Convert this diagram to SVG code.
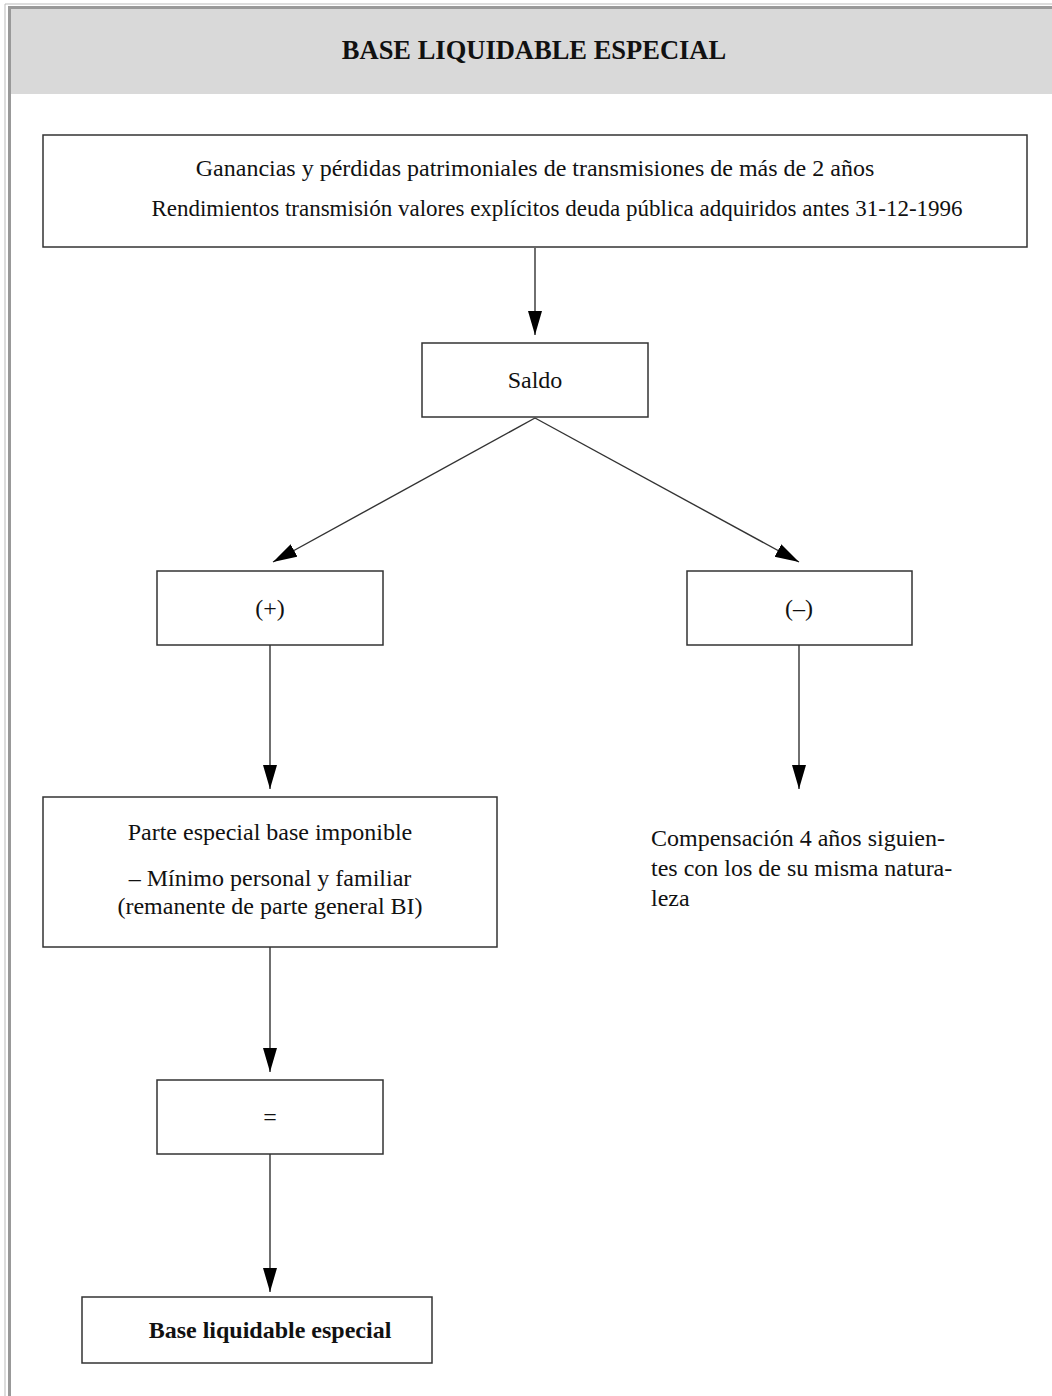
<svg xmlns="http://www.w3.org/2000/svg" width="1052" height="1396" viewBox="0 0 1052 1396">
<style>
.box{fill:#fff;stroke:#333;stroke-width:1.5}
.t{font-family:"Liberation Serif","Times New Roman",serif;font-size:24px;fill:#111;text-anchor:middle}
.tl{font-family:"Liberation Serif","Times New Roman",serif;font-size:24px;fill:#111}
.b{font-weight:bold}
.c{stroke:#333;stroke-width:1.4;fill:none;marker-end:url(#ah)}
</style>
<defs>
<marker id="ah" markerUnits="userSpaceOnUse" markerWidth="26" markerHeight="16" refX="24" refY="7" orient="auto">
<path d="M0,0 L24,7 L0,14 Z" fill="#000"/>
</marker>
</defs>
<rect x="0" y="0" width="1052" height="1396" fill="#fff"/>
<g id="frame">
<line x1="5" y1="4" x2="5" y2="1396" stroke="#bbb" stroke-width="1"/>
<line x1="5" y1="4" x2="1052" y2="4" stroke="#bbb" stroke-width="1"/>
<rect x="8" y="6" width="3" height="1390" fill="#999"/>
<rect x="8" y="6" width="1044" height="3" fill="#999"/>
<rect x="11" y="9" width="1041" height="85" fill="#d9d9d9"/>
<text x="534" y="59" class="t b" style="font-size:26.5px">BASE LIQUIDABLE ESPECIAL</text>
</g>
<g id="connectors">
<line class="c" x1="535" y1="248" x2="535" y2="335"/>
<line class="c" x1="535" y1="418" x2="273" y2="562"/>
<line class="c" x1="535" y1="418" x2="799" y2="562"/>
<line class="c" x1="270" y1="645" x2="270" y2="789"/>
<line class="c" x1="799" y1="645" x2="799" y2="789"/>
<line class="c" x1="270" y1="947" x2="270" y2="1072"/>
<line class="c" x1="270" y1="1154" x2="270" y2="1292"/>
</g>
<g id="n-ganancias">
<rect class="box" x="43" y="135" width="984" height="112"/>
<text class="t" x="535" y="176">Ganancias y pérdidas patrimoniales de transmisiones de más de 2 años</text>
<text class="t" x="557" y="216" style="font-size:23px">Rendimientos transmisión valores explícitos deuda pública adquiridos antes 31-12-1996</text>
</g>
<g id="n-saldo">
<rect class="box" x="422" y="343" width="226" height="74"/>
<text class="t" x="535" y="388">Saldo</text>
</g>
<g id="n-mas">
<rect class="box" x="157" y="571" width="226" height="74"/>
<text class="t" x="270" y="616">(+)</text>
</g>
<g id="n-menos">
<rect class="box" x="687" y="571" width="225" height="74"/>
<text class="t" x="799" y="616">(–)</text>
</g>
<g id="n-compensacion">
<text class="tl" x="651" y="846">Compensación 4 años siguien-</text>
<text class="tl" x="651" y="876">tes con los de su misma natura-</text>
<text class="tl" x="651" y="906">leza</text>
</g>
<g id="n-parte">
<rect class="box" x="43" y="797" width="454" height="150"/>
<text class="t" x="270" y="840">Parte especial base imponible</text>
<text class="t" x="270" y="886">– Mínimo personal y familiar</text>
<text class="t" x="270" y="914">(remanente de parte general BI)</text>
</g>
<g id="n-igual">
<rect class="box" x="157" y="1080" width="226" height="74"/>
<text class="t" x="270" y="1125">=</text>
</g>
<g id="n-base">
<rect class="box" x="82" y="1297" width="350" height="66"/>
<text class="t b" x="270" y="1338">Base liquidable especial</text>
</g>
</svg>
